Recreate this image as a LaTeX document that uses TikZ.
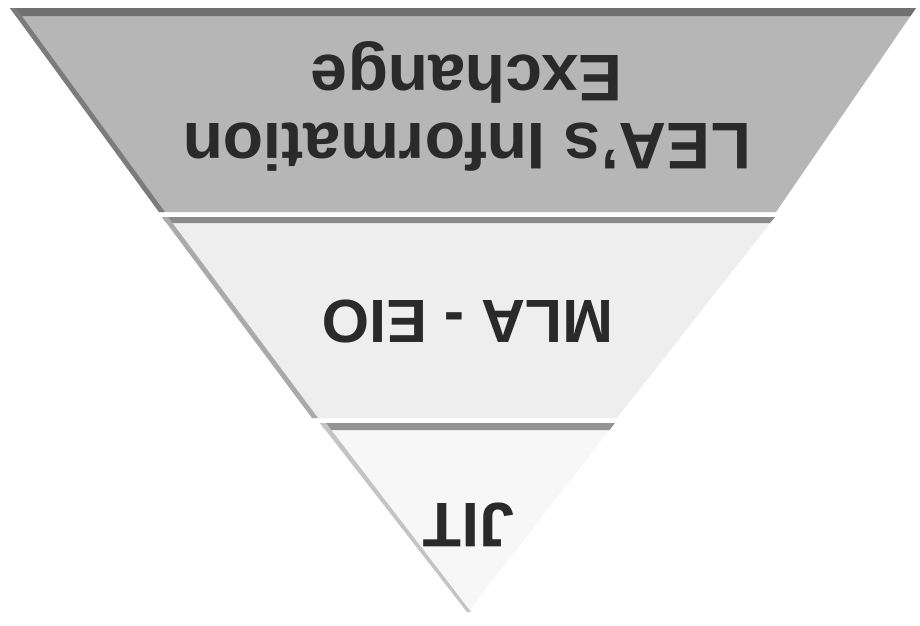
\documentclass[tikz,border=0pt]{standalone}
\usepackage{fontspec}
\setmainfont{Liberation Sans}
\definecolor{topfill}{HTML}{B6B6B6}
\definecolor{topline}{HTML}{707070}
\definecolor{topside}{HTML}{7C7C7C}
\definecolor{midfill}{HTML}{EEEEEE}
\definecolor{midline}{HTML}{8A8A8A}
\definecolor{midside}{HTML}{AAAAAA}
\definecolor{lowfill}{HTML}{F7F7F7}
\definecolor{lowline}{HTML}{939393}
\definecolor{lowside}{HTML}{C4C4C4}
\definecolor{txt}{HTML}{2A2A2A}
\begin{document}
\begin{tikzpicture}[x=1pt,y=-1pt,
  lbl/.style={font=\bfseries\fontsize{#1}{68}\selectfont, text=txt, rotate=180, inner sep=0pt, align=center}]
\useasboundingbox (0,0) rectangle (920,625);
% top band
\fill[topfill] (10,8) -- (916,8) -- (776,212) -- (159,212) -- cycle;
\fill[topline] (10,8) -- (916,8) -- (910.5,16) -- (16,16) -- cycle;
\fill[topside] (10,8) -- (16,8) -- (165,212) -- (159,212) -- cycle;
% middle band
\fill[midfill] (162,217) -- (775,217) -- (617,418) -- (312,418) -- cycle;
\fill[midline] (162,217) -- (775,217) -- (770,223) -- (166.5,223) -- cycle;
\fill[midside] (162,217) -- (168,217) -- (318,418) -- (312,418) -- cycle;
% lower band
\fill[lowfill] (320,423) -- (615,423) -- (468,612) -- cycle;
\fill[lowline] (320,423) -- (615,423) -- (609.5,430) -- (325.5,430) -- cycle;
\fill[lowside] (320,423) -- (326,423) -- (471,612) -- (467,612) -- cycle;
% labels
\node[lbl=66] (lea) at (467,106) {LEA\kern0pt’\kern0pt s Information\\Exchange};
\node[lbl=61, anchor=base] (mla) at (468,300) {MLA - EIO};
\node[lbl=63, anchor=base] (jit) at (469,503) {JIT};
\end{tikzpicture}
\end{document}
